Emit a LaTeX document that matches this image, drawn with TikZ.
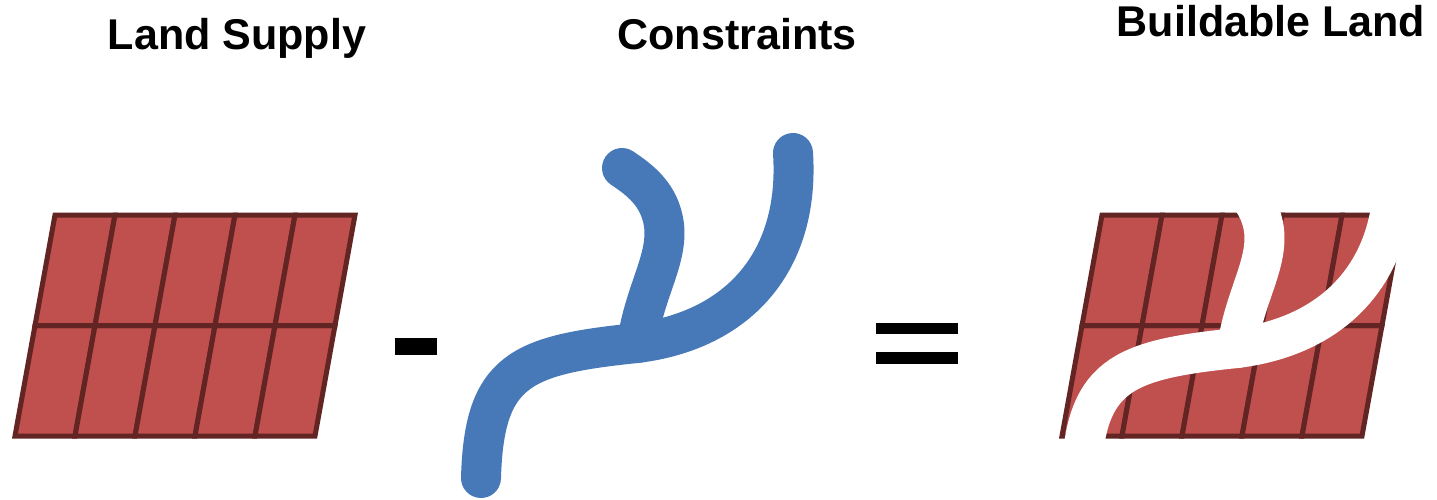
\documentclass[tikz,border=0pt]{standalone}
\usepackage{fontspec}
\setmainfont{Liberation Sans}
\usepackage{xcolor}
\definecolor{plotfill}{RGB}{192,80,77}
\definecolor{plotline}{RGB}{99,37,35}
\definecolor{riverblue}{RGB}{71,121,184}

% the constraint (river with one branch), in px
\newcommand{\riverline}[1]{%
  \draw[river,#1] (481,478) .. controls (484,370) and (520,355) .. (637,343)
    .. controls (740,330) and (800,260) .. (793,153);
  \draw[river,#1] (637,343) .. controls (645,290) and (668,260) .. (664,225)
    .. controls (660,195) and (640,180) .. (622,168);}

\begin{document}
\begin{tikzpicture}[x=0.02cm,y=-0.02cm,
  plot/.style={draw=plotline,fill=plotfill,line width=0.1cm,line join=miter},
  river/.style={line width=0.8cm,line cap=round,line join=round},
  title/.style={anchor=base,font=\fontsize{24.5}{28}\selectfont\bfseries},
  bar/.style={fill=black,draw=none}]
  \useasboundingbox (0,0) rectangle (1437,500);
  % titles
  \node[title] (supply) at (237,50) {Land Supply};
  \node[title] (constr) at (737,50) {Constraints};
  \node[title] (build) at (1271,37) {Buildable Land};
  % land parcels: 2 rows of 5 slanted plots
  \foreach \gx in {15,1062} {
    \begin{scope}[shift={(\gx,436)},xslant=0.181]
      \foreach \i in {0,...,4}
        \foreach \j in {0,1}
          \draw[plot] (60*\i,-110.5*\j) -- (60*\i+60,-110.5*\j)
            -- (60*\i+60,-110.5*\j-110.5) -- (60*\i,-110.5*\j-110.5) -- cycle;
    \end{scope}
  }
  % minus and equals
  \fill[bar] (395,338) rectangle (437,355);
  \fill[bar] (876,323) rectangle (958,334);
  \fill[bar] (876,352) rectangle (958,364);
  % constraint
  \riverline{riverblue}
  % constraint cut out of the buildable land
  \begin{scope}[shift={(600,5)}]
    \riverline{white}
  \end{scope}
\end{tikzpicture}
\end{document}
